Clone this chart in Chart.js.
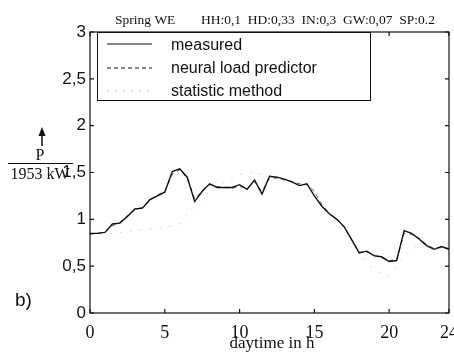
<!DOCTYPE html>
<html><head><meta charset="utf-8">
<script src="https://cdn.jsdelivr.net/npm/chart.js@4/dist/chart.umd.min.js"></script>
<style>html,body{margin:0;padding:0;background:#fff}#wrap{width:454px;height:352px}</style>
</head><body><div id="wrap"><canvas id="c" width="454" height="352"></canvas></div>
<script>
const hours = [0,0.5,1,1.5,2,2.5,3,3.5,4,4.5,5,5.5,6,6.5,7,7.5,8,8.5,9,9.5,10,10.5,11,11.5,12,12.5,13,13.5,14,14.5,15,15.5,16,16.5,17,17.5,18,18.5,19,19.5,20,20.5,21,21.5,22,22.5,23,23.5,24];
const measured = [0.85,0.85,0.86,0.95,0.96,1.03,1.11,1.12,1.21,1.25,1.29,1.51,1.54,1.45,1.19,1.30,1.38,1.34,1.34,1.34,1.37,1.32,1.42,1.27,1.46,1.45,1.43,1.40,1.36,1.38,1.25,1.14,1.06,1.00,0.92,0.78,0.64,0.66,0.61,0.60,0.55,0.56,0.88,0.85,0.79,0.72,0.68,0.71,0.68];
const neural = [0.84,0.85,0.87,0.93,0.97,1.04,1.10,1.13,1.20,1.26,1.30,1.48,1.53,1.44,1.22,1.30,1.37,1.35,1.34,1.33,1.35,1.33,1.40,1.30,1.44,1.44,1.42,1.40,1.38,1.37,1.30,1.16,1.06,1.00,0.91,0.78,0.65,0.65,0.62,0.59,0.56,0.57,0.85,0.84,0.80,0.73,0.69,0.70,0.69];
const statHours = [0,1,2,3,4,5,6,7,8,9,10,11,12,13,14,15,16,17,18,19,20,21,22,23,24];
const statistic = [0.84,0.84,0.86,0.88,0.90,0.91,0.95,1.15,1.30,1.40,1.48,1.50,1.46,1.42,1.38,1.25,1.05,0.85,0.65,0.45,0.40,0.60,0.75,0.76,0.74];
const xTicks = [0,5,10,15,20,24];
const yTicks = [0,0.5,1,1.5,2,2.5,3];
const titleLeft = "Spring WE";
const titleRight = "HH:0,1  HD:0,33  IN:0,3  GW:0,07  SP:0.2";
const seriesNames = ["measured","neural load predictor","statistic method"];
const xTitle = "daytime in h";

const toXY = (xs, ys) => xs.map((x,i)=>({x:x,y:ys[i]}));

const decor = {
  id:'decor',
  beforeDraw(chart){
    const ctx=chart.ctx; ctx.save(); ctx.fillStyle='#fff'; ctx.fillRect(0,0,chart.width,chart.height); ctx.restore();
  },
  afterDraw(chart){
    const ctx=chart.ctx, a=chart.chartArea, xs=chart.scales.x, ys=chart.scales.y;
    ctx.save();
    ctx.strokeStyle='#111'; ctx.lineWidth=1.2;
    ctx.strokeRect(a.left,a.top,a.right-a.left,a.bottom-a.top);
    ctx.beginPath();
    yTicks.forEach(v=>{const y=ys.getPixelForValue(v); ctx.moveTo(a.left,y);ctx.lineTo(a.left+4,y);ctx.moveTo(a.right,y);ctx.lineTo(a.right-4,y);});
    xTicks.forEach(v=>{const x=xs.getPixelForValue(v); ctx.moveTo(x,a.bottom);ctx.lineTo(x,a.bottom-4);ctx.moveTo(x,a.top);ctx.lineTo(x,a.top+4);});
    ctx.stroke();
    // title
    ctx.fillStyle='#111'; ctx.font='13.5px "Liberation Serif"'; ctx.textBaseline='alphabetic';
    ctx.fillText(titleLeft,115,24);
    ctx.fillText(titleRight,201,24);
    // legend
    ctx.fillStyle='#fff'; ctx.fillRect(97,32,273,68);
    ctx.strokeStyle='#111'; ctx.lineWidth=1; ctx.strokeRect(97.5,32.5,273,68);
    ctx.lineWidth=1.2;
    ctx.beginPath(); ctx.setLineDash([]); ctx.moveTo(107,44); ctx.lineTo(152,44); ctx.stroke();
    ctx.beginPath(); ctx.setLineDash([4,3]); ctx.moveTo(107,68); ctx.lineTo(152,68); ctx.stroke();
    ctx.strokeStyle='rgba(0,0,0,0.25)';
    ctx.beginPath(); ctx.setLineDash([2,6]); ctx.moveTo(107,91); ctx.lineTo(152,91); ctx.stroke();
    ctx.setLineDash([]);
    ctx.fillStyle='#111'; ctx.font='16px "Liberation Sans"';
    ctx.fillText(seriesNames[0],171,50);
    ctx.fillText(seriesNames[1],171,73);
    ctx.fillText(seriesNames[2],171,96);
    // y label
    ctx.strokeStyle='#111'; ctx.lineWidth=1.5;
    ctx.beginPath(); ctx.moveTo(42,146); ctx.lineTo(42,131); ctx.stroke();
    ctx.beginPath(); ctx.moveTo(38.5,136); ctx.lineTo(42,127); ctx.lineTo(45.5,136); ctx.closePath(); ctx.fillStyle='#111'; ctx.fill();
    ctx.font='16px "Liberation Serif"'; ctx.textAlign='center';
    ctx.fillText('P',40,160);
    ctx.lineWidth=1; ctx.beginPath(); ctx.moveTo(8,163.5); ctx.lineTo(73,163.5); ctx.stroke();
    ctx.fillText('1953 kW',40,179);
    ctx.font='17px "Liberation Serif"';
    ctx.fillText(xTitle,272,348);
    ctx.textAlign='left';
    ctx.font='19px "Liberation Sans"';
    ctx.fillText('b)',15,306);
    ctx.restore();
  }
};

new Chart(document.getElementById('c'),{
  type:'line',
  data:{datasets:[
    {label:seriesNames[2],data:toXY(statHours,statistic),borderColor:'rgba(0,0,0,0.16)',borderWidth:1,borderDash:[2,8],pointRadius:0,tension:0},
    {label:seriesNames[1],data:toXY(hours,neural),borderColor:'rgba(0,0,0,0.6)',borderWidth:1,borderDash:[4,4],pointRadius:0,tension:0},
    {label:seriesNames[0],data:toXY(hours,measured),borderColor:'#111',borderWidth:1.4,pointRadius:0,tension:0}
  ]},
  options:{
    responsive:false,animation:false,
    layout:{padding:{top:32,right:5,left:0,bottom:0}},
    plugins:{legend:{display:false},title:{display:false},tooltip:{enabled:false}},
    scales:{
      x:{type:'linear',min:0,max:24,
        afterBuildTicks:s=>{s.ticks=xTicks.map(v=>({value:v}));},
        afterFit:s=>{s.height=39;s.paddingLeft=0;s.paddingRight=0;},
        grid:{display:false,drawTicks:false},border:{display:false},
        ticks:{padding:9,color:'#111',font:{family:'Liberation Serif',size:18},maxRotation:0,autoSkip:false}},
      y:{min:0,max:3,
        afterBuildTicks:s=>{s.ticks=yTicks.map(v=>({value:v}));},
        afterFit:s=>{s.width=90;s.paddingTop=0;s.paddingBottom=0;},
        grid:{display:false,drawTicks:false},border:{display:false},
        ticks:{padding:4,color:'#111',font:{family:'Liberation Sans',size:17},callback:v=>String(v).replace('.',',')}}
    }
  },
  plugins:[decor]
});
</script>
</body></html>
